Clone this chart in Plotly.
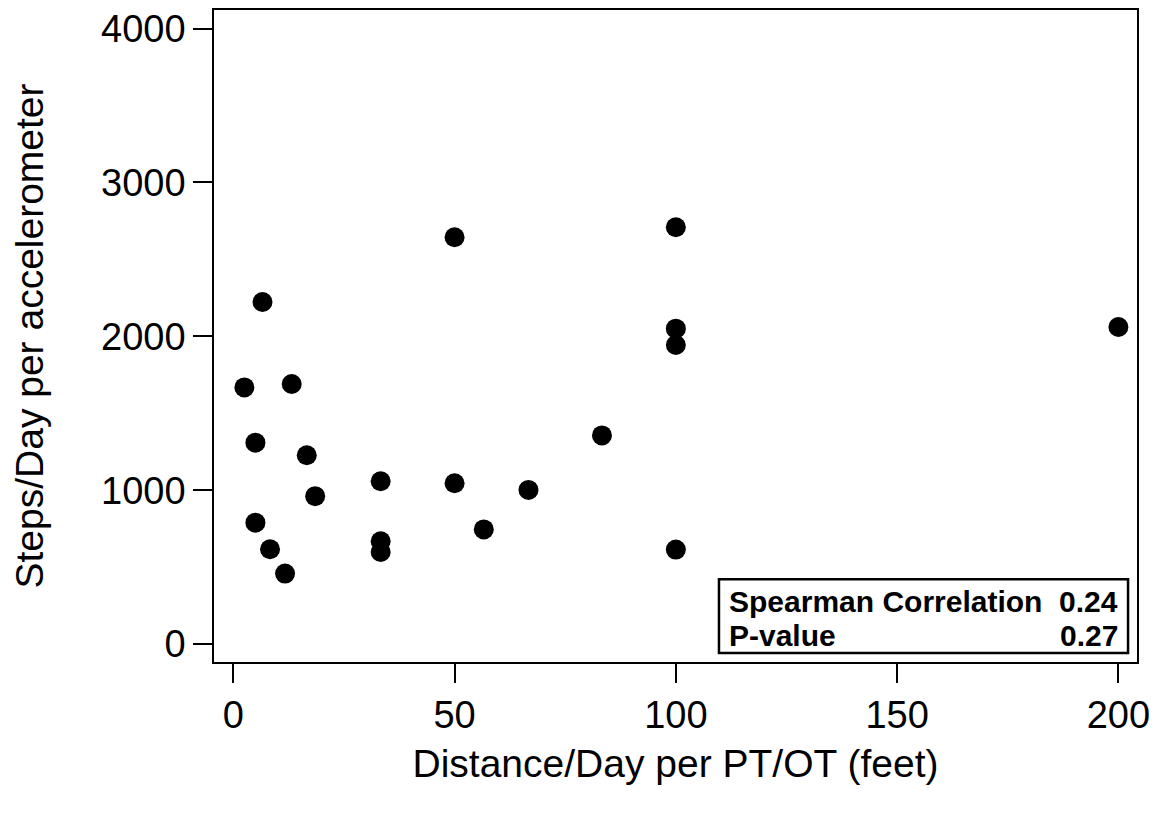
import plotly.graph_objects as go

# Data
distance_ft = [2.5, 6.6, 13.2, 5.0, 16.6, 33.3, 50.0, 66.7, 18.5, 5.0, 56.6, 8.3, 33.3, 33.3, 11.7,
               50.0, 100.0, 100.0, 100.0, 83.3, 100.0, 200.0]
steps_day = [1668, 2223, 1690, 1309, 1227, 1058, 1045, 1002, 961, 789, 745, 616, 668, 598, 458,
             2644, 2709, 2050, 1944, 1356, 614, 2061]

x_ticks = [0, 50, 100, 150, 200]
y_ticks = [0, 1000, 2000, 3000, 4000]

stat_labels = ["Spearman Correlation", "P-value"]
stat_values = ["0.24", "0.27"]

FONT = "Liberation Sans, Arial, sans-serif"

fig = go.Figure()
fig.add_trace(go.Scatter(
    x=distance_ft, y=steps_day, mode="markers",
    marker=dict(size=20, color="black", line=dict(width=0)),
    showlegend=False, hoverinfo="x+y"))

axis_common = dict(
    showline=True, linecolor="black", linewidth=1.5, mirror=True,
    ticks="outside", ticklen=19, tickwidth=1.5, tickcolor="black",
    showgrid=False, zeroline=False, ticklabeloverflow="allow",
    tickfont=dict(family=FONT, size=38, color="black"),
)

fig.update_xaxes(range=[-4.36, 204.2], tickvals=x_ticks,
                 ticktext=[str(v) for v in x_ticks],
                 title=dict(text="Distance/Day per PT/OT (feet)",
                            font=dict(family=FONT, size=39, color="black"), standoff=14),
                 **axis_common)
fig.update_yaxes(range=[-116.7, 4121], tickvals=y_ticks,
                 ticktext=[str(v) for v in y_ticks],
                 title=dict(text="Steps/Day per accelerometer",
                            font=dict(family=FONT, size=39, color="black"), standoff=46),
                 **axis_common)

# Statistics inset box
fig.add_shape(type="rect", xref="paper", yref="paper",
              x0=0.5471, x1=0.9903, y0=0.0138, y1=0.1269,
              line=dict(color="black", width=2.5), fillcolor="white", layer="above")
row_y = [0.0924, 0.0413]
for i in range(len(stat_labels)):
    fig.add_annotation(xref="paper", yref="paper", x=0.5558, y=row_y[i],
                       text="<b>%s</b>" % stat_labels[i], showarrow=False,
                       xanchor="left", yanchor="middle",
                       font=dict(family=FONT, size=30, color="black"))
    fig.add_annotation(xref="paper", yref="paper", x=0.9816, y=row_y[i],
                       text="<b>%s</b>" % stat_values[i], showarrow=False,
                       xanchor="right", yanchor="middle",
                       font=dict(family=FONT, size=30, color="black"))

fig.update_layout(
    width=1166, height=814,
    margin=dict(l=206, r=37, t=0, b=160),
    plot_bgcolor="white", paper_bgcolor="white",
    font=dict(family=FONT, color="black"),
)

fig.write_html("out.html")
